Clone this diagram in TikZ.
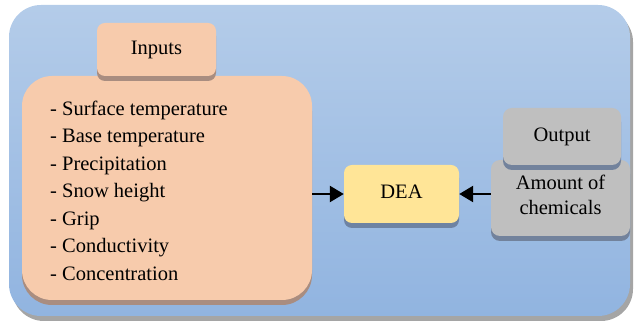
\documentclass[tikz,border=0pt]{standalone}
\usepackage{fontspec}
\setmainfont{Liberation Serif}
\usetikzlibrary{shadows,arrows.meta}
\definecolor{bluetop}{HTML}{B4CCE9}
\definecolor{bluebot}{HTML}{91B4E0}
\definecolor{peach}{HTML}{F7CBAC}
\definecolor{peachsh}{HTML}{A98D80}
\definecolor{deay}{HTML}{FFE597}
\definecolor{slate}{HTML}{6E83A3}
\definecolor{greybox}{HTML}{BFBFBF}
\definecolor{outersh}{HTML}{A5A5A5}
\tikzset{
  x=1pt,y=1pt,
  txt/.style={font=\rmfamily\fontsize{20.5}{25}\selectfont},
  box/.style={rectangle, draw=none, inner sep=0pt, txt},
  outerbox/.style={box, rounded corners=32pt, top color=bluetop, bottom color=bluebot,
     drop shadow={shadow xshift=3pt, shadow yshift=-5pt, fill=outersh, opacity=1}},
  peachbox/.style={box, fill=peach,
     drop shadow={shadow xshift=0pt, shadow yshift=-5pt, fill=peachsh, opacity=1}},
  deabox/.style={box, fill=deay, rounded corners=8pt,
     drop shadow={shadow xshift=0pt, shadow yshift=-5pt, fill=slate, opacity=1}},
  greyb/.style={box, fill=greybox, rounded corners=9pt,
     drop shadow={shadow xshift=0pt, shadow yshift=-5pt, fill=slate!80!gray, opacity=1}},
  arr/.style={line width=2.6pt, -{Triangle[length=14pt,width=16pt]}},
}
\begin{document}
\begin{tikzpicture}
\useasboundingbox (0,0) rectangle (638,326);
\node[outerbox, minimum width=621pt, minimum height=311pt] (outer) at (319.5,165.5) {};
\node[peachbox, rounded corners=30pt, minimum width=290pt, minimum height=224pt] (inbox) at (167,138) {};
\node[peachbox, rounded corners=8pt, minimum width=119pt, minimum height=53pt] (intitle) at (156.5,276.5) {Inputs};
\node[anchor=west, align=left, inner sep=0pt, font=\rmfamily\fontsize{20.5}{27.5}\selectfont] (inlist) at (50,135.5)
 {- Surface temperature\\- Base temperature\\- Precipitation\\- Snow height\\- Grip\\- Conductivity\\- Concentration};
\node[deabox, minimum width=115pt, minimum height=58pt] (dea) at (401.5,132) {\raisebox{4pt}{DEA}};
\node[greyb, minimum width=139pt, minimum height=76pt] (amount) at (560.5,128) {};
\node[align=center, inner sep=0pt, font=\rmfamily\fontsize{20.5}{25}\selectfont] (amounttxt) at (560.5,131) {Amount of\\chemicals};
\node[greyb, minimum width=118pt, minimum height=57pt] (output) at (562,189.5) {Output};
\draw[arr] (dea.west -| inbox.east) -- (dea.west);
\draw[arr] (amount.west |- dea.east) -- (dea.east);
\end{tikzpicture}
\end{document}
